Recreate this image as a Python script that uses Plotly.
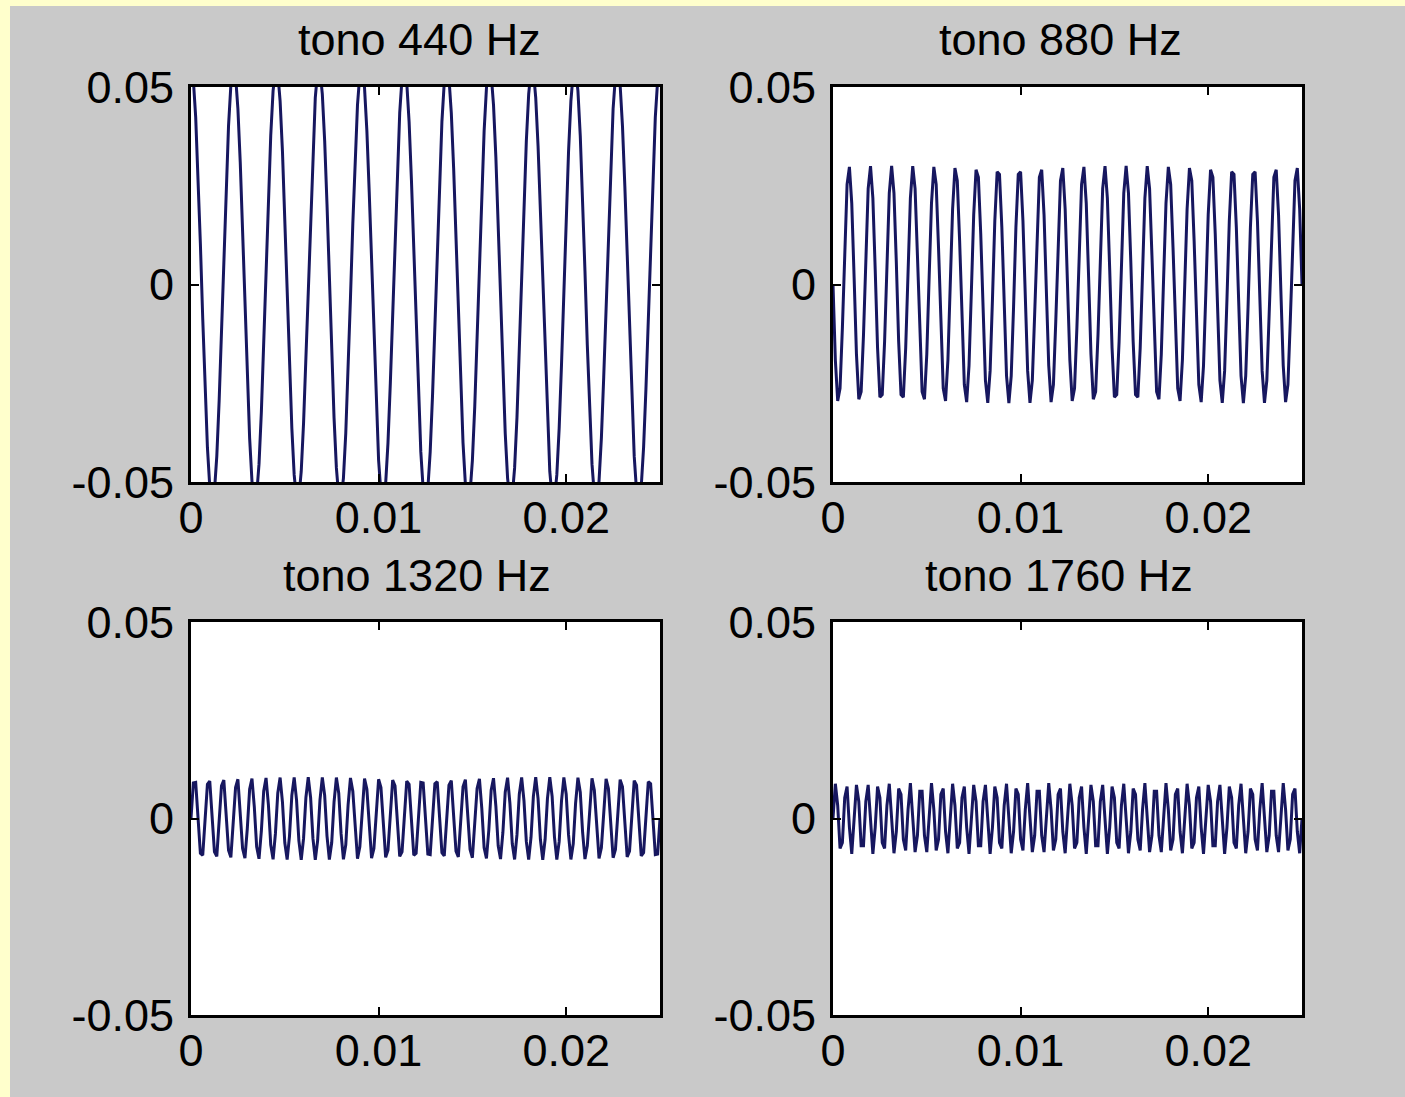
import numpy as np
import plotly.graph_objects as go

# ---- data ----
titles = ["tono 440 Hz", "tono 880 Hz", "tono 1320 Hz", "tono 1760 Hz"]
tone_freqs = [440, 880, 1320, 1760]            # Hz (from titles)
tone_amps = [0.055, 0.030, 0.0105, 0.009]      # amplitudes
tone_phase = [np.pi / 2, np.pi, 0.0, 0.0]       # start phase (rad)
sample_rate = 8000                               # samples per second
duration = 0.025                                 # seconds shown

x_ticks = [0, 0.01, 0.02]
x_tick_labels = ["0", "0.01", "0.02"]
y_ticks = [-0.05, 0, 0.05]
y_tick_labels = ["-0.05", "0", "0.05"]

W, H = 1405, 1097
# axes boxes in pixels (left, right, top, bottom)
boxes = [(191, 660, 87, 482), (833, 1302, 87, 482),
         (191, 660, 622, 1015), (833, 1302, 622, 1015)]
title_pos = [(419, 40), (1060, 40), (417, 575), (1059, 575)]

FONT = "Liberation Sans"
FS = 45
line_col = "#17175f"

fig = go.Figure()
t = np.arange(0, int(round(duration * sample_rate)) + 1) / sample_rate

for i in range(4):
    y = tone_amps[i] * np.sin(2 * np.pi * tone_freqs[i] * t + tone_phase[i])
    ax = "" if i == 0 else str(i + 1)
    fig.add_trace(go.Scatter(x=t, y=y, mode="lines",
                             line=dict(color=line_col, width=3),
                             xaxis="x" + ax, yaxis="y" + ax,
                             showlegend=False, hoverinfo="skip"))
    l, r, tp, b = boxes[i]
    common = dict(showline=True, linecolor="black", linewidth=3, mirror="ticks",
                  ticks="inside", ticklen=8, tickwidth=2, tickcolor="black",
                  showgrid=False, zeroline=False, automargin=False,
                  tickfont=dict(family=FONT, size=FS, color="black"))
    fig.layout["xaxis" + ax] = dict(domain=[l / W, r / W], range=[0, duration],
                                    tickvals=x_ticks, ticktext=x_tick_labels,
                                    anchor="y" + ax, ticklabelstandoff=-6, **common)
    fig.layout["yaxis" + ax] = dict(domain=[1 - b / H, 1 - tp / H], range=[-0.05, 0.05],
                                    tickvals=y_ticks, ticktext=y_tick_labels,
                                    anchor="x" + ax, ticklabelstandoff=5, **common)
    tx, ty = title_pos[i]
    fig.add_annotation(text=titles[i], x=tx / W, y=1 - ty / H, xref="paper", yref="paper",
                       xanchor="center", yanchor="middle", showarrow=False,
                       font=dict(family=FONT, size=FS, color="black"))

fig.update_layout(
    template="none",
    width=W, height=H, margin=dict(l=0, r=0, t=0, b=0, pad=0),
    paper_bgcolor="#c9c9c9", plot_bgcolor="white",
    shapes=[
        dict(type="rect", xref="paper", yref="paper", x0=0, x1=10 / W, y0=0, y1=1,
             fillcolor="#ffffcc", line=dict(width=0), layer="below"),
        dict(type="rect", xref="paper", yref="paper", x0=0, x1=1, y0=1 - 6 / H, y1=1,
             fillcolor="#ffffcc", line=dict(width=0), layer="below"),
    ],
)

fig.write_html("out.html")
